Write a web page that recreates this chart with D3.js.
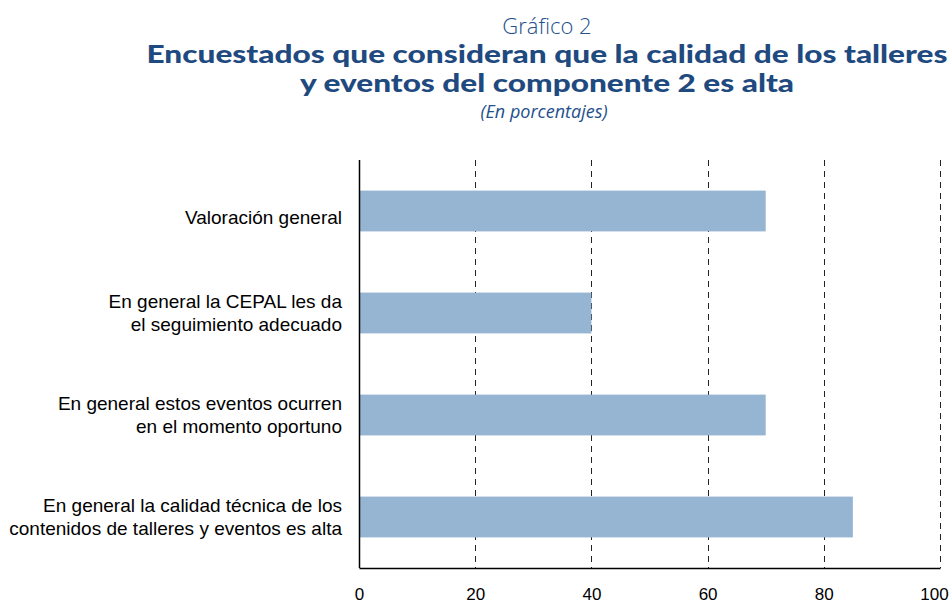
<!DOCTYPE html>
<html>
<head>
<meta charset="utf-8">
<script src="https://cdn.jsdelivr.net/npm/d3@7"></script>
<style>
  body { margin: 0; background: #fff; }
</style>
</head>
<body>
<script>
var categories = [
  ["Valoración general"],
  ["En general la CEPAL les da", "el seguimiento adecuado"],
  ["En general estos eventos ocurren", "en el momento oportuno"],
  ["En general la calidad técnica de los", "contenidos de talleres y eventos es alta"]
];
var values = [70, 40, 70, 85];
var xTicks = [0, 20, 40, 60, 80, 100];

(function () {

var width = 950, height = 604;
var plotLeft = 359, plotRight = 940, plotTop = 160, plotBottom = 568;

var svg = d3.select("body").append("svg")
  .attr("width", width)
  .attr("height", height);

// titles
svg.append("text")
  .attr("x", 547).attr("y", 34)
  .attr("text-anchor", "middle")
  .style("font-family", "'Open Sans', sans-serif")
  .style("font-weight", 300)
  .style("font-size", "22px")
  .style("fill", "#24508c")
  .text("Gráfico 2");

var titleLines = [
  { t: "Encuestados que consideran que la calidad de los talleres", y: 63, w: 801 },
  { t: "y eventos del componente 2 es alta", y: 92, w: 494 }
];
svg.selectAll("text.title").data(titleLines).enter().append("text")
  .attr("class", "title")
  .attr("x", 547).attr("y", function(d) { return d.y })
  .attr("text-anchor", "middle")
  .attr("textLength", function(d) { return d.w })
  .attr("lengthAdjust", "spacingAndGlyphs")
  .style("font-family", "Lato, sans-serif")
  .style("font-weight", 900)
  .style("font-size", "25px")
  .style("fill", "#1f4a80")
  .text(function(d) { return d.t });

svg.append("text")
  .attr("x", 544).attr("y", 118)
  .attr("text-anchor", "middle")
  .style("font-family", "'Open Sans', sans-serif")
  .style("font-style", "italic")
  .style("font-size", "18px")
  .style("fill", "#24508c")
  .text("(En porcentajes)");

var x = d3.scaleLinear().domain([0, 100]).range([plotLeft, plotRight]);
var y = d3.scaleBand().domain(d3.range(categories.length))
  .range([plotTop, plotBottom]).paddingInner(0.6).paddingOuter(0.3);

// dashed gridlines
svg.selectAll("line.grid").data(xTicks.slice(1)).enter().append("line")
  .attr("class", "grid")
  .attr("x1", function(d) { return Math.round(x(d)) + 0.5 })
  .attr("x2", function(d) { return Math.round(x(d)) + 0.5 })
  .attr("y1", plotTop).attr("y2", plotBottom)
  .attr("stroke", "#222")
  .attr("stroke-width", 1)
  .attr("stroke-dasharray", "6,5");

// bars
svg.selectAll("rect.bar").data(values).enter().append("rect")
  .attr("class", "bar")
  .attr("x", x(0))
  .attr("y", function(d, i) { return y(i) })
  .attr("width", function(d) { return x(d) - x(0) })
  .attr("height", y.bandwidth())
  .attr("fill", "#95b5d3");

// axes
svg.append("line")
  .attr("x1", plotLeft + 0.5).attr("x2", plotLeft + 0.5)
  .attr("y1", plotTop).attr("y2", plotBottom)
  .attr("stroke", "#000").attr("stroke-width", 1.5);

var xAxis = svg.append("g")
  .attr("transform", "translate(0," + plotBottom + ")")
  .call(d3.axisBottom(x).tickValues(xTicks).tickSize(0).tickPadding(20));
xAxis.select(".domain").attr("stroke", "#000").attr("stroke-width", 1.5);
xAxis.selectAll("text")
  .style("font-family", "'Liberation Sans', Arial, sans-serif")
  .style("font-size", "17px")
  .style("fill", "#000")
  .attr("dx", function(d) { return d === 100 ? -6 : 0 });

// category labels
var labels = svg.selectAll("text.cat").data(categories).enter().append("text")
  .attr("class", "cat")
  .attr("text-anchor", "end")
  .style("font-family", "'Liberation Sans', Arial, sans-serif")
  .style("font-size", "19px")
  .style("fill", "#000");

labels.each(function(lines, i) {
  var cy = y(i) + y.bandwidth() / 2;
  var n = lines.length;
  var extra = n === 1 ? 6 : 0;
  d3.select(this).selectAll("tspan").data(lines).enter().append("tspan")
    .attr("x", 342)
    .attr("y", function(d, j) { return cy + (j - (n - 1) / 2) * 22.5 + 6.5 + extra })
    .text(function(d) { return d });
});

}())
</script>
</body>
</html>
